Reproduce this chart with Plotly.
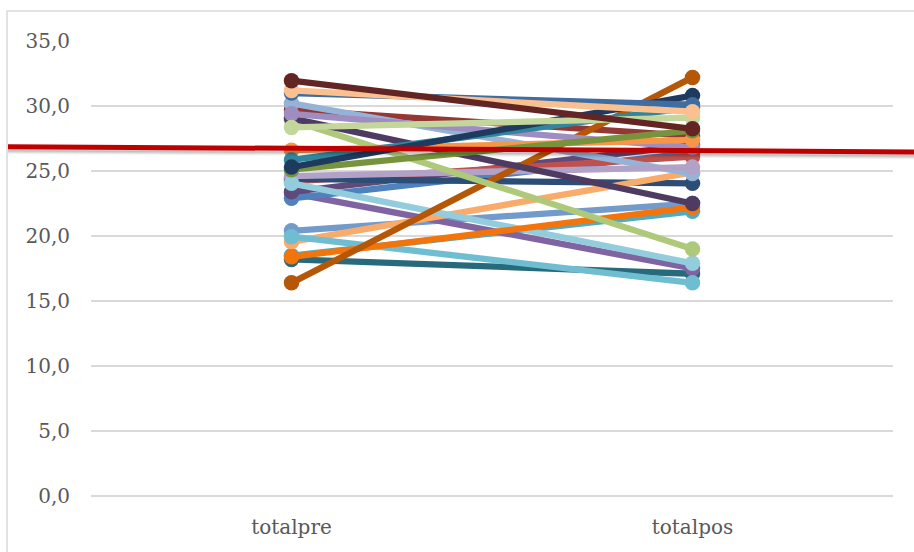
import plotly.graph_objects as go

# Two measurement points per participant
categories = ["totalpre", "totalpos"]

pre_scores = [18.2, 18.5, 20.4, 23.3, 22.9, 23.4, 24.2, 24.4, 19.55, 29.7,
              30.2, 24.6, 19.95, 24.05, 18.4, 16.4, 28.9, 29.05, 29.4, 26.6,
              25.1, 25.85, 25.3, 28.35, 31.0, 31.2, 31.95]
post_scores = [17.1, 21.9, 22.5, 17.5, 26.4, 27.0, 26.1, 24.05, 24.9, 27.7,
               24.8, 25.3, 16.4, 17.9, 22.2, 32.2, 19.0, 22.5, 26.8, 27.4,
               28.1, 29.9, 30.8, 29.1, 30.1, 29.56, 28.25]
series_colors = ["#276A7C", "#4BACC6", "#729ACA", "#8064A2", "#4F81BD", "#604A7B",
                 "#C0504D", "#2C4D75", "#F9AB6B", "#953735", "#95B3D7", "#B3A2C7",
                 "#6FBDD1", "#93CDDD", "#F3740B", "#B65708", "#AFC97A", "#4D3B62",
                 "#9F8CC0", "#F79646", "#77933C", "#31859C", "#1F3A5F", "#C3D69B",
                 "#3F6CA1", "#FAC090", "#632523"]

# Overall mean line (left end, right end)
reference_line = [26.87, 26.47]

y_ticks = [0, 5, 10, 15, 20, 25, 30, 35]
# small headroom below zero so the 0,0 gridline is kept
y_range = [-0.15, 35]

FONT = "DejaVu Serif"
TEXT_COLOR = "#595959"
GRID_COLOR = "#D9D9D9"

MARGIN_T, MARGIN_B = 41, 54
HEIGHT = 552

fig = go.Figure()
for pre, post, color in zip(pre_scores, post_scores, series_colors):
    fig.add_trace(go.Scatter(
        x=categories, y=[pre, post],
        mode="lines+markers",
        line=dict(color=color, width=6.3),
        marker=dict(size=15.5, color=color),
        showlegend=False, hoverinfo="skip",
    ))


def to_paper(v):
    return (v - y_range[0]) / (y_range[1] - y_range[0])


plot_h = HEIGHT - MARGIN_T - MARGIN_B
line_x0, line_x1 = -0.1035, 1.0262

shapes = [
    # chart frame
    dict(type="rect", xref="paper", yref="paper",
         x0=-0.1047, x1=1.2, y0=-0.3, y1=1 + 30 / plot_h,
         line=dict(color=GRID_COLOR, width=1.5), fillcolor="rgba(0,0,0,0)",
         layer="below"),
]
# soft drop shadow beneath the mean line
for off, alpha in [(6, 0.04), (5, 0.06), (4, 0.09), (3, 0.12)]:
    d = off / plot_h
    shapes.append(dict(type="line", xref="paper", yref="paper",
                       x0=line_x0, x1=line_x1,
                       y0=to_paper(reference_line[0]) - d,
                       y1=to_paper(reference_line[1]) - d,
                       line=dict(color=f"rgba(0,0,0,{alpha})", width=3)))
shapes.append(dict(type="line", xref="paper", yref="paper",
                   x0=line_x0, x1=line_x1,
                   y0=to_paper(reference_line[0]), y1=to_paper(reference_line[1]),
                   line=dict(color="#C00000", width=5)))

fig.update_layout(
    width=914, height=HEIGHT,
    margin=dict(l=91, r=21, t=MARGIN_T, b=MARGIN_B),
    paper_bgcolor="white", plot_bgcolor="white",
    separators=",.",
    font=dict(family=FONT, size=20, color=TEXT_COLOR),
    xaxis=dict(type="category", range=[-0.5, 1.5], showgrid=False,
               zeroline=False, showline=False, ticks="",
               tickfont=dict(family=FONT, size=20, color=TEXT_COLOR),
               ticklabelstandoff=15),
    yaxis=dict(range=y_range, tickvals=y_ticks, tickformat=".1f",
               showgrid=True, gridcolor=GRID_COLOR, gridwidth=1.5,
               zeroline=False, showline=False, ticks="",
               tickfont=dict(family=FONT, size=20, color=TEXT_COLOR),
               ticklabelstandoff=20),
    shapes=shapes,
)

fig.write_html("out.html")
